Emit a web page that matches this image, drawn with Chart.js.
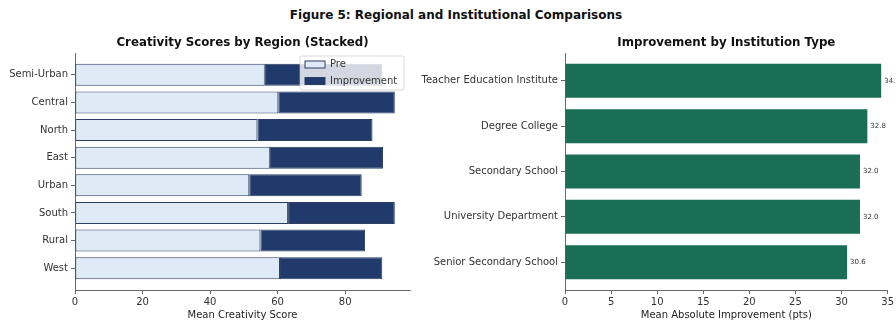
<!DOCTYPE html>
<html>
<head>
<meta charset="utf-8">
<script src="https://cdn.jsdelivr.net/npm/chart.js@4.4.1/dist/chart.umd.min.js"></script>
<style>
  body { margin: 0; background: #fff; }
  #fig { position: relative; width: 896px; height: 322px; overflow: hidden; font-family: 'DejaVu Sans', sans-serif; }
  #suptitle { position: absolute; top: 8px; left: 456px; transform: translateX(-50%); white-space: nowrap;
              font-size: 12px; font-weight: bold; color: #111; }
  #regionWrap { position: absolute; left: 0; top: 0; width: 415px; height: 322px; }
  #instWrap { position: absolute; left: 415px; top: 0; width: 481px; height: 322px; }
</style>
</head>
<body>
<div id="fig">
  <div id="suptitle">Figure 5: Regional and Institutional Comparisons</div>
  <div id="regionWrap"><canvas id="regionChart"></canvas></div>
  <div id="instWrap"><canvas id="instChart"></canvas></div>
</div>
<script>
// regions, listed top to bottom
const regions = ['Semi-Urban', 'Central', 'North', 'East', 'Urban', 'South', 'Rural', 'West'];
const preScores = [56.2, 60.2, 54.0, 57.7, 51.6, 63.1, 54.9, 60.7];
const improvement = [34.8, 34.5, 34.1, 33.5, 33.3, 31.6, 31.0, 30.3];

// institution types, listed top to bottom
const institutions = ['Teacher Education Institute', 'Degree College', 'Secondary School', 'University Department', 'Senior Secondary School'];
const instImprovement = [34.3, 32.8, 32.0, 32.0, 30.6];

const regionTicks = [0, 20, 40, 60, 80];
const instTicks = [0, 5, 10, 15, 20, 25, 30, 35];

Chart.defaults.font.family = "'DejaVu Sans', sans-serif";
Chart.defaults.font.size = 10;
Chart.defaults.color = '#333';
Chart.defaults.animation = false;

const AXIS = '#444';

// subplot title centred over the plot area
const panelTitle = {
    id: 'panelTitle',
    afterDraw(chart, args, opts) {
        const { ctx, chartArea } = chart;
        ctx.save();
        ctx.font = "bold 11.8px 'DejaVu Sans', sans-serif";
        ctx.fillStyle = '#111';
        ctx.textAlign = 'center';
        ctx.textBaseline = 'middle';
        ctx.fillText(opts.text, (chartArea.left + chartArea.right) / 2, chartArea.top - 10);
        ctx.restore();
    }
};

// matplotlib-style legend box in the upper right of the plot
const boxLegend = {
    id: 'boxLegend',
    afterDatasetsDraw(chart) {
        const { ctx, chartArea } = chart;
        const w = 104, h = 34;
        const x0 = chartArea.right - w - 6, y0 = chartArea.top + 3;
        ctx.save();
        ctx.fillStyle = 'rgba(255,255,255,0.8)';
        ctx.strokeStyle = 'rgba(200,200,200,0.8)';
        ctx.lineWidth = 0.8;
        ctx.beginPath();
        ctx.roundRect(x0, y0, w, h, 2);
        ctx.fill();
        ctx.stroke();
        ctx.font = "10px 'DejaVu Sans', sans-serif";
        ctx.textBaseline = 'middle';
        chart.data.datasets.forEach((ds, i) => {
            const cy = y0 + 8.5 + i * 16.5;
            ctx.fillStyle = ds.backgroundColor;
            ctx.fillRect(x0 + 5, cy - 3.5, 20, 7);
            ctx.strokeStyle = ds.borderColor;
            ctx.lineWidth = 1;
            ctx.strokeRect(x0 + 5, cy - 3.5, 20, 7);
            ctx.fillStyle = '#333';
            ctx.fillText(ds.label, x0 + 30, cy);
        });
        ctx.restore();
    }
};

// value written at the end of each bar
const barValues = {
    id: 'barValues',
    afterDatasetsDraw(chart) {
        const { ctx } = chart;
        const meta = chart.getDatasetMeta(0);
        ctx.save();
        ctx.font = "7px 'DejaVu Sans', sans-serif";
        ctx.fillStyle = '#333';
        ctx.textBaseline = 'middle';
        meta.data.forEach((bar, i) => {
            const v = chart.data.datasets[0].data[i].x;
            ctx.fillText(v.toFixed(1), bar.x + 3, bar.y);
        });
        ctx.restore();
    }
};

function axisX(min, max, ticks, title) {
    return {
        type: 'linear', min: min, max: max, stacked: true,
        afterBuildTicks: s => { s.ticks = ticks.map(v => ({ value: v })); },
        afterFit: s => { s.height = 32; },
        grid: { drawOnChartArea: false, drawTicks: true, tickLength: 4, color: AXIS, lineWidth: 0.8 },
        border: { display: true, color: AXIS, width: 0.8 },
        ticks: { padding: 2, color: '#333' },
        title: { display: true, text: title, color: '#222', padding: { top: 1, bottom: 1 } }
    };
}

function axisY(names, height, width) {
    const pad = height / 2 + 0.05 * (names.length - 1 + height);
    return {
        type: 'linear', reverse: true, stacked: true, offset: false,
        min: -pad, max: names.length - 1 + pad,
        afterBuildTicks: s => { s.ticks = names.map((n, i) => ({ value: i })); },
        afterFit: s => { s.width = width; },
        grid: { offset: false, drawOnChartArea: false, drawTicks: true, tickLength: 4, color: AXIS, lineWidth: 0.8 },
        border: { display: true, color: AXIS, width: 0.8 },
        ticks: { padding: 3, color: '#333', callback: v => names[v] }
    };
}

new Chart(document.getElementById('regionChart'), {
    type: 'bar',
    data: {
        datasets: [
            {
                label: 'Pre',
                data: regions.map((r, i) => ({ x: preScores[i], y: i })),
                backgroundColor: '#deebf7',
                borderColor: '#2a3f63',
                borderWidth: 1,
                borderSkipped: false
            },
            {
                label: 'Improvement',
                data: regions.map((r, i) => ({ x: improvement[i], y: i })),
                backgroundColor: '#1f3a6b',
                borderColor: '#2a3f63',
                borderWidth: 1,
                borderSkipped: false
            }
        ]
    },
    options: {
        indexAxis: 'y',
        responsive: true,
        maintainAspectRatio: false,
        layout: { padding: { top: 53, right: 5, left: 0, bottom: 0 } },
        barPercentage: 0.8,
        categoryPercentage: 1,
        scales: {
            x: axisX(0, 99.2, regionTicks, 'Mean Creativity Score'),
            y: axisY(regions, 0.8, 75)
        },
        plugins: {
            legend: { display: false },
            tooltip: { enabled: false },
            panelTitle: { text: 'Creativity Scores by Region (Stacked)' }
        }
    },
    plugins: [panelTitle, boxLegend]
});

new Chart(document.getElementById('instChart'), {
    type: 'bar',
    data: {
        datasets: [{
            label: 'Improvement',
            data: institutions.map((n, i) => ({ x: instImprovement[i], y: i })),
            backgroundColor: '#1a6e55',
            borderWidth: 0
        }]
    },
    options: {
        indexAxis: 'y',
        responsive: true,
        maintainAspectRatio: false,
        layout: { padding: { top: 53, right: 6, left: 0, bottom: 0 } },
        barPercentage: 0.75,
        categoryPercentage: 1,
        scales: {
            x: axisX(0, 35, instTicks, 'Mean Absolute Improvement (pts)'),
            y: axisY(institutions, 0.75, 150)
        },
        plugins: {
            legend: { display: false },
            tooltip: { enabled: false },
            panelTitle: { text: 'Improvement by Institution Type' }
        }
    },
    plugins: [panelTitle, barValues]
});
</script>
</body>
</html>
